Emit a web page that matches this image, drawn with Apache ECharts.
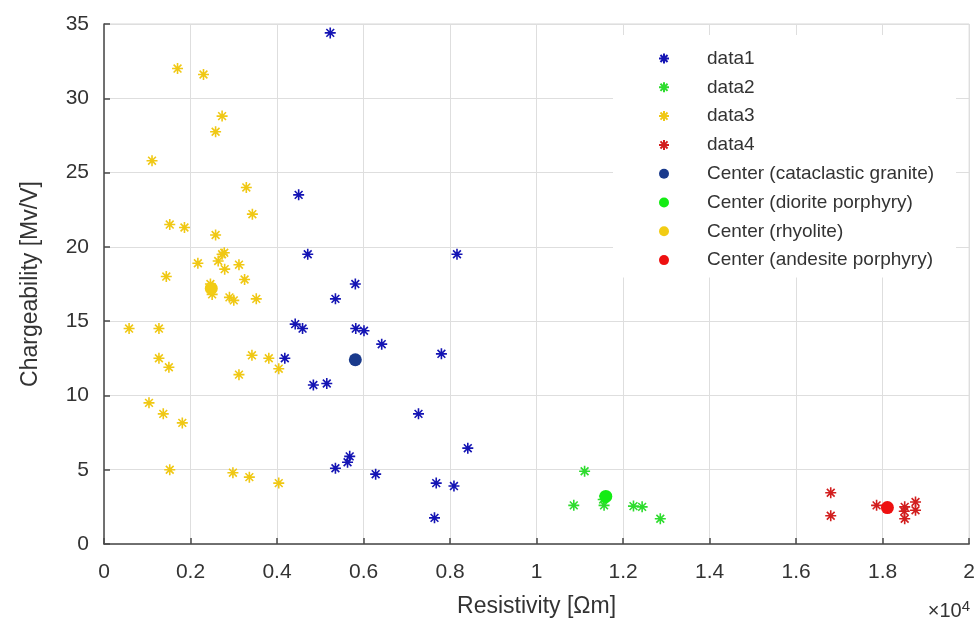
<!DOCTYPE html>
<html>
<head>
<meta charset="utf-8">
<script src="https://cdn.jsdelivr.net/npm/echarts@6/dist/echarts.min.js"></script>
<style>
html, body { margin: 0; padding: 0; background: #fff; }
#chart { width: 978px; height: 623px; }
</style>
</head>
<body>
<div id="chart"></div>
<script>
// resistivity in ohm-m, chargeability in mV/V
var data1X = [5230, 4500, 4710, 8160, 5810, 5350, 4420, 4590, 5820, 6010, 6420, 7800, 4180, 4840, 5150, 7270, 8410, 5680, 5630, 5350, 6280, 7680, 8090, 7640];
var data1Y = [34.4, 23.5, 19.5, 19.5, 17.5, 16.5, 14.8, 14.5, 14.5, 14.35, 13.45, 12.8, 12.5, 10.7, 10.8, 8.76, 6.45, 5.9, 5.5, 5.1, 4.7, 4.1, 3.9, 1.76];

var data2X = [11110, 10860, 11560, 11540, 12240, 12440, 12860];
var data2Y = [4.9, 2.6, 2.6, 3.0, 2.55, 2.5, 1.7];

var data3X = [1700, 2300, 2730, 2580, 1110, 3290, 3430, 1520, 1860, 2580, 2730, 2780, 2640, 2170, 2790, 3120, 1440, 3250, 2460, 2500, 2900, 3000, 3520, 580, 1270, 3420, 3810, 1270, 1500, 4040, 3120, 1040, 1370, 1810, 1520, 2980, 3360, 4040];
var data3Y = [32.0, 31.6, 28.8, 27.75, 25.8, 24.0, 22.2, 21.5, 21.3, 20.8, 19.5, 19.6, 19.05, 18.9, 18.5, 18.8, 18.0, 17.8, 17.5, 16.8, 16.6, 16.4, 16.5, 14.5, 14.5, 12.7, 12.5, 12.5, 11.9, 11.8, 11.4, 9.5, 8.76, 8.15, 5.0, 4.8, 4.5, 4.1];

var data4X = [16800, 16800, 17860, 18510, 18510, 18760, 18760, 18500];
var data4Y = [3.45, 1.9, 2.6, 2.5, 1.7, 2.83, 2.27, 2.2];

var centerNames = ['Center (cataclastic granite)', 'Center (diorite porphyry)', 'Center (rhyolite)', 'Center (andesite porphyry)'];
var centerX = [5810, 11600, 2480, 18110];
var centerY = [12.4, 3.2, 17.2, 2.45];

var xTicks = [0, 0.2, 0.4, 0.6, 0.8, 1, 1.2, 1.4, 1.6, 1.8, 2];

var starPath = 'path://M0 -10 L0 10 M-10 0 L10 0 M-7.07 -7.07 L7.07 7.07 M-7.07 7.07 L7.07 -7.07';
var starColors = ['#1414b4', '#2edc2e', '#f0c814', '#d21e1e'];
var centerColors = ['#1a3a8c', '#14ec14', '#f2cc14', '#ee1010'];

function pairs(xs, ys) {
	var out = [];
	for (var i = 0; i < xs.length; i++) out.push([xs[i], ys[i]]);
	return out;
}

var starSets = [[data1X, data1Y], [data2X, data2Y], [data3X, data3Y], [data4X, data4Y]];
var series = [];
starSets.forEach(function (s, i) {
	series.push({
		name: 'data' + (i + 1),
		type: 'scatter',
		symbol: starPath,
		symbolSize: 11,
		data: pairs(s[0], s[1]),
		itemStyle: { color: 'transparent', borderColor: starColors[i], borderWidth: 1.6, opacity: 1 },
		emphasis: { disabled: true }
	});
});
centerNames.forEach(function (n, i) {
	series.push({
		name: n,
		type: 'scatter',
		symbol: 'circle',
		symbolSize: 13,
		data: [[centerX[i], centerY[i]]],
		itemStyle: { color: centerColors[i], opacity: 1 },
		emphasis: { disabled: true }
	});
});

var chart = echarts.init(document.getElementById('chart'));
var option = {
	animation: false,
	backgroundColor: '#fff',
	textStyle: { fontFamily: 'Liberation Sans, Arial, sans-serif' },
	grid: {
		left: 104, right: 6, top: 24, bottom: 77,
		show: true, borderColor: '#d6d6d6', borderWidth: 1
	},
	legend: {
		orient: 'vertical',
		left: 613, top: 35,
		padding: [14, 22, 8, 45],
		itemWidth: 10, itemHeight: 10,
		itemGap: 9.8,
		backgroundColor: '#fff',
		textStyle: { fontSize: 19, color: '#333', padding: [0, 0, 0, 33] },
		data: ['data1', 'data2', 'data3', 'data4'].concat(centerNames)
	},
	xAxis: {
		type: 'value',
		min: 0, max: 20000, interval: 2000,
		name: 'Resistivity [\u03A9m]',
		nameLocation: 'middle',
		nameGap: 51,
		nameTextStyle: { fontSize: 23, color: '#333' },
		axisLine: { show: true, onZero: false, lineStyle: { color: '#4a4a4a', width: 1.5 } },
		axisTick: { show: true, inside: true, length: 6, lineStyle: { color: '#4a4a4a', width: 1.5 } },
		axisLabel: {
			fontSize: 21, color: '#333', margin: 18,
			formatter: function (v) { return String(xTicks[Math.round(v / 2000)]); }
		},
		splitLine: { show: true, lineStyle: { color: '#dedede', width: 1 } }
	},
	yAxis: {
		type: 'value',
		min: 0, max: 35, interval: 5,
		name: 'Chargeability [Mv/V]',
		nameLocation: 'middle',
		nameGap: 62,
		nameTextStyle: { fontSize: 23, color: '#333' },
		axisLine: { show: true, onZero: false, lineStyle: { color: '#4a4a4a', width: 1.5 } },
		axisTick: { show: true, inside: true, length: 6, lineStyle: { color: '#4a4a4a', width: 1.5 } },
		axisLabel: { fontSize: 21, color: '#333', margin: 15 },
		splitLine: { show: true, lineStyle: { color: '#dedede', width: 1 } }
	},
	graphic: [{
		type: 'text',
		right: 8, top: 599,
		style: {
			text: '\u00D710{s|4}',
			fill: '#333',
			font: '20px Liberation Sans, Arial, sans-serif',
			rich: { s: { fontSize: 15, verticalAlign: 'top', padding: [0, 0, 10, 0] } }
		}
	}],
	series: series
};
chart.setOption(option);
</script>
</body>
</html>
